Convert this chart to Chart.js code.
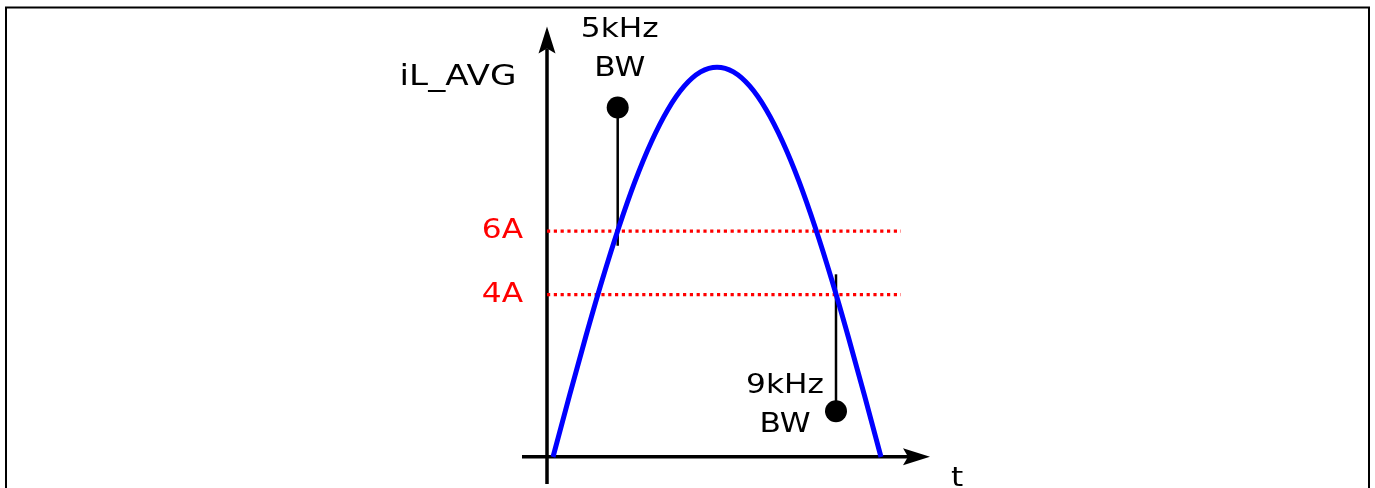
<!DOCTYPE html>
<html>
<head>
<meta charset="utf-8">
<script src="https://cdn.jsdelivr.net/npm/chart.js@4/dist/chart.umd.min.js"></script>
<style>
  html, body { margin: 0; padding: 0; background: #fff; }
  canvas { display: block; }
</style>
</head>
<body>
<canvas id="bwChart" width="1375" height="488"></canvas>
<script>
// time (arbitrary units) and average inductor current (A) of the blue hump
var curveT = [0.6, 2.24, 3.88, 5.52, 7.16, 8.8, 10.44, 12.08, 13.72, 15.36, 17.0,
              18.64, 20.28, 21.92, 23.56, 25.2, 26.84, 28.48, 30.12, 31.76, 33.4];
var curveI = [-1.12, 0.81, 2.68, 4.46, 6.10, 7.57, 8.82, 9.83, 10.57, 11.02, 11.17,
              11.02, 10.57, 9.83, 8.82, 7.57, 6.10, 4.46, 2.68, 0.81, -1.12];

// threshold levels (A) and their labels
var levels = [6, 4];
var levelLabels = ['6A', '4A'];
var levelEndT = 35.4;

// bandwidth markers: time, dot current, other end current
var markerT = [7.07, 28.9];
var markerDotI = [9.9, 0.32];
var markerEndI = [5.54, 4.64];
var markerLabels = [['5kHz', 'BW'], ['9kHz', 'BW']];

// axis origin and extents
var axisOriginI = -1.11;
var axisTopI = 12.45;
var axisBottomI = -1.97;
var axisLeftT = -2.5;
var axisRightT = 38.3;

function buildDatasets() {
    var sets = [];
    var curve = [];
    for (var i = 0; i < curveT.length; i++) {
        curve.push({x: curveT[i], y: curveI[i]});
    }
    sets.push({
        data: curve,
        borderColor: '#0000ff',
        borderWidth: 5,
        pointRadius: 0,
        cubicInterpolationMode: 'monotone',
        clip: false
    });
    for (var j = 0; j < levels.length; j++) {
        sets.push({
            data: [{x: 0, y: levels[j]}, {x: levelEndT, y: levels[j]}],
            borderColor: '#ff0000',
            borderWidth: 3.3,
            borderDash: [3.2, 3.6],
            pointRadius: 0,
            clip: false
        });
    }
    for (var k = 0; k < markerT.length; k++) {
        sets.push({
            data: [{x: markerT[k], y: markerDotI[k]}, {x: markerT[k], y: markerEndI[k]}],
            borderColor: '#000',
            backgroundColor: '#000',
            borderWidth: 2.5,
            pointRadius: [11, 0],
            pointBorderWidth: 0,
            clip: false
        });
    }
    return sets;
}

function arrowHead(ctx, x, y, angle) {
    ctx.save();
    ctx.translate(x, y);
    ctx.rotate(angle);
    ctx.beginPath();
    ctx.moveTo(0, 0);
    ctx.lineTo(-27, -8.5);
    ctx.lineTo(-22, 0);
    ctx.lineTo(-27, 8.5);
    ctx.closePath();
    ctx.fillStyle = '#000';
    ctx.fill();
    ctx.restore();
}

// text in the source is a bit wide for its height
function wideText(ctx, text, x, y, size) {
    ctx.save();
    ctx.font = size + 'px "DejaVu Sans"';
    ctx.translate(x, y);
    ctx.scale(1.2, 1);
    ctx.fillText(text, 0, 0);
    ctx.restore();
}

var sketchPlugin = {
    id: 'sketch',
    beforeDatasetsDraw: function(chart) {
        var ctx = chart.ctx;
        var xs = chart.scales.x, ys = chart.scales.y;
        var x0 = xs.getPixelForValue(0);
        var y0 = ys.getPixelForValue(axisOriginI);
        var yTop = ys.getPixelForValue(axisTopI);
        var xRight = xs.getPixelForValue(axisRightT);
        ctx.save();
        ctx.strokeStyle = '#000';
        ctx.lineWidth = 3.5;
        ctx.beginPath();
        ctx.moveTo(x0, ys.getPixelForValue(axisBottomI));
        ctx.lineTo(x0, yTop + 22);
        ctx.moveTo(xs.getPixelForValue(axisLeftT), y0);
        ctx.lineTo(xRight - 22, y0);
        ctx.stroke();
        arrowHead(ctx, x0, yTop, -Math.PI / 2);
        arrowHead(ctx, xRight, y0, 0);
        ctx.restore();
    },
    afterDraw: function(chart) {
        var ctx = chart.ctx;
        var xs = chart.scales.x, ys = chart.scales.y;
        var x0 = xs.getPixelForValue(0);
        ctx.save();
        // frame
        ctx.strokeStyle = '#000';
        ctx.lineWidth = 2;
        ctx.strokeRect(6, 7.5, 1363, 500);

        ctx.textAlign = 'center';
        ctx.textBaseline = 'alphabetic';
        ctx.fillStyle = '#000';
        wideText(ctx, 'iL_AVG', x0 - 89, 85, 28.5);
        wideText(ctx, 't', xs.getPixelForValue(axisRightT) + 27, 486, 26);

        ctx.fillStyle = '#ff0000';
        ctx.textAlign = 'right';
        for (var j = 0; j < levels.length; j++) {
            wideText(ctx, levelLabels[j], x0 - 24, ys.getPixelForValue(levels[j]) + 7, 26);
        }

        ctx.fillStyle = '#000';
        ctx.textAlign = 'center';
        var mx1 = xs.getPixelForValue(markerT[0]);
        wideText(ctx, markerLabels[0][0], mx1 + 2, 37, 26);
        wideText(ctx, markerLabels[0][1], mx1 + 2, 76, 26);
        var mx2 = xs.getPixelForValue(markerT[1]);
        wideText(ctx, markerLabels[1][0], mx2 - 51, 393, 26);
        wideText(ctx, markerLabels[1][1], mx2 - 51, 432, 26);
        ctx.restore();
    }
};

function drawChart() {
    var ctx = document.getElementById('bwChart').getContext('2d');
    var chart = new Chart(ctx, {
        type: 'line',
        data: { datasets: buildDatasets() },
        options: {
            responsive: false,
            animation: false,
            events: [],
            layout: { padding: { left: 397, right: 378, top: 25, bottom: 7 } },
            scales: {
                x: { type: 'linear', min: -15, max: 45, display: false },
                y: { type: 'linear', min: -1.75, max: 12.5, display: false }
            },
            plugins: {
                legend: { display: false },
                tooltip: { enabled: false },
                title: { display: false }
            }
        },
        plugins: [sketchPlugin]
    });
}

drawChart();
</script>
</body>
</html>
